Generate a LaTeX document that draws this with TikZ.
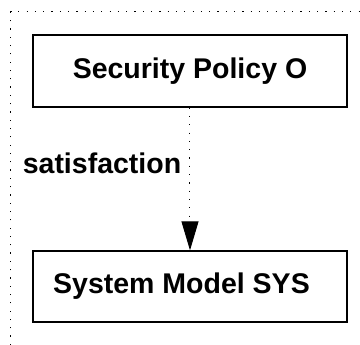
\documentclass[tikz,border=0pt]{standalone}
\usepackage{fontspec}
\setmainfont{Liberation Sans}
\usetikzlibrary{arrows.meta}
\begin{document}
\begin{tikzpicture}[x=1pt,y=1pt,
  box/.style={draw,line width=1.3pt,minimum width=314pt,minimum height=72pt,inner sep=0pt,
    font=\fontsize{28.5}{34}\selectfont\bfseries},
  lbl/.style={font=\fontsize{28.5}{34}\selectfont\bfseries,inner sep=0pt},
  dotline/.style={line width=1pt,dash pattern=on 1.2pt off 7.1pt}]
\useasboundingbox (0,0) rectangle (360,345);
\draw[dotline] (11,0) -- (11,333) -- (360,333);
\node[box] (sp) at (190,274) {Security Policy O};
\node[box,minimum height=71pt] (sm) at (190,58.5) {System Model SYS\kern17pt};
\node[lbl] (sat) at (102,182) {satisfaction};
\draw[dotline,-{Triangle[length=29pt,width=17pt]}] (sp.south) -- (sm.north);
\end{tikzpicture}
\end{document}
